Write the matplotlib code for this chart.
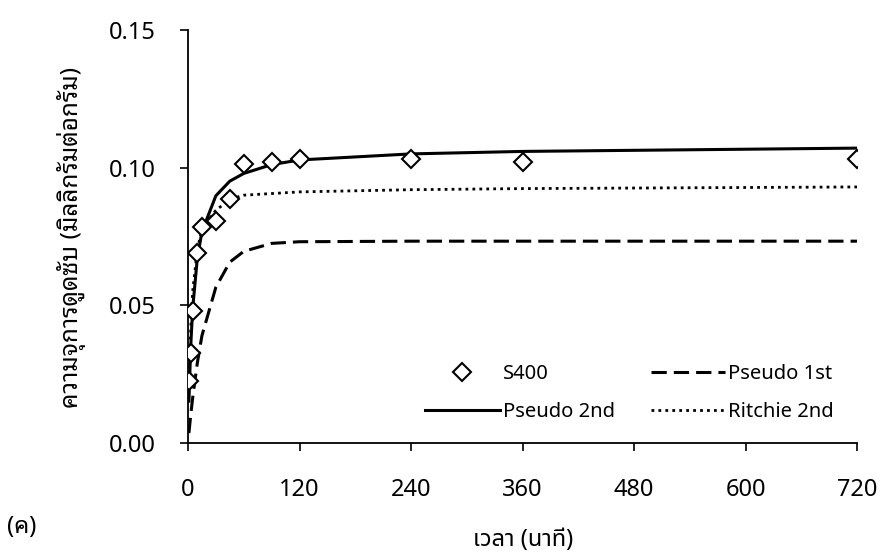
import matplotlib
matplotlib.use("Agg")
import matplotlib.pyplot as plt

# ---- data ----
time_min = [1, 3, 5, 10, 15, 30, 45, 60, 90, 120, 240, 360, 720]
s400 = [0.0225, 0.0326, 0.0480, 0.0689, 0.0783, 0.0806, 0.0885, 0.1013,
        0.1020, 0.1031, 0.1031, 0.1022, 0.1032]
pseudo1 = [0.0036, 0.0104, 0.0163, 0.0290, 0.0390, 0.0566, 0.0657, 0.0696,
           0.0725, 0.0731, 0.0733, 0.0733, 0.0733]
pseudo2 = [0.0152, 0.0356, 0.0487, 0.0670, 0.0768, 0.0898, 0.0951, 0.0979,
           0.1011, 0.1028, 0.1050, 0.1059, 0.1071]
ritchie2 = [0.0250, 0.0420, 0.0550, 0.0700, 0.0780, 0.0845, 0.0885, 0.0900,
            0.0906, 0.0912, 0.0920, 0.0924, 0.0930]
x_ticks = [0, 120, 240, 360, 480, 600, 720]
y_ticks = [0.00, 0.05, 0.10, 0.15]
x_label = "เวลา (นาที)"
y_label = "ความจุการดูดซับ (มิลลิกรัมต่อกรัม)"
panel_label = "(ค)"

plt.rcParams["font.family"] = ["Noto Sans", "Noto Sans Thai", "DejaVu Sans"]
plt.rcParams["font.weight"] = "light"
W, H = 880, 554

fig = plt.figure(figsize=(8.8, 5.54), dpi=100)
ax = fig.add_axes([188/W, 1-443/H, (857-188)/W, (443-30)/H])

ax.plot(time_min, pseudo1, color="black", lw=2.2, ls=(0, (5, 2.3)), label="Pseudo 1st", zorder=2)
ax.plot(time_min, pseudo2, color="black", lw=2.2, ls="-", label="Pseudo 2nd", zorder=3)
ax.plot(time_min, ritchie2, color="black", lw=2.0, ls=(0, (1.0, 1.5)), label="Ritchie 2nd", zorder=2)
ax.plot(time_min, s400, ls="none", marker="D", ms=9.5, mfc="white", mec="black", mew=1.5,
        label="S400", zorder=4)

ax.set_xlim(0, 720)
ax.set_ylim(0, 0.15)
ax.set_xticks(x_ticks)
ax.set_yticks(y_ticks)
ax.set_yticklabels([f"{v:.2f}" for v in y_ticks])
ax.tick_params(axis="both", direction="out", length=6, width=1.2, labelsize=17)
ax.tick_params(axis="x", pad=19)
ax.tick_params(axis="y", pad=17)
for s in ["top", "right"]:
    ax.spines[s].set_visible(False)
for s in ["left", "bottom"]:
    ax.spines[s].set_linewidth(1.3)

h, l = ax.get_legend_handles_labels()
order = [3, 1, 0, 2]
leg = ax.legend([h[i] for i in order], [l[i] for i in order], ncol=2, frameon=False,
                fontsize=14.5, loc="upper left", bbox_to_anchor=(417/W, 1-356/H),
                bbox_transform=fig.transFigure, borderaxespad=0,
                handlelength=3.7, columnspacing=1.8, handletextpad=0.15, labelspacing=0.9)

fig.text(523/W, 1-540/H, x_label, ha="center", va="center", fontsize=17,
         family=["Noto Sans", "Noto Sans Thai"])
fig.text(72/W, 1-237/H, y_label, ha="center", va="center", rotation=90, fontsize=17.5,
         family=["Noto Sans", "Noto Sans Thai Looped"])
fig.text(7/W, 1-527/H, panel_label, ha="left", va="center", fontsize=17,
         family=["Noto Sans", "Noto Sans Thai Looped"])

fig.savefig("out.png", dpi=100)
